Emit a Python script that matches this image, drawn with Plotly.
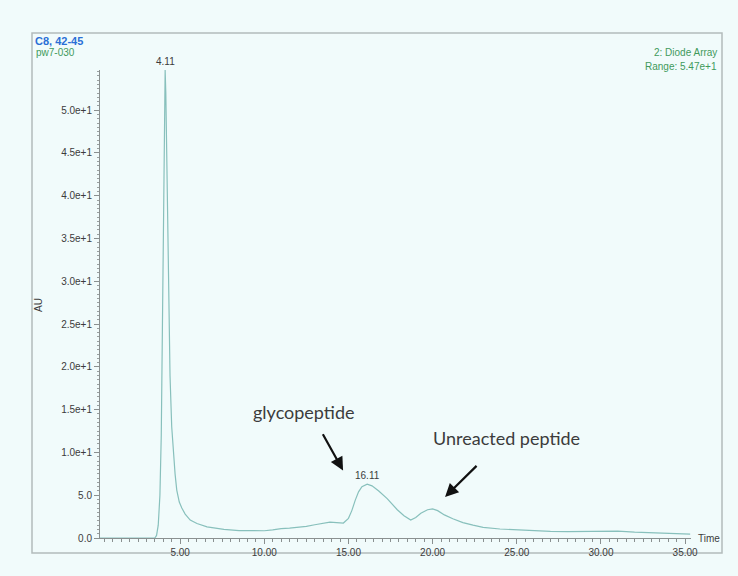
import plotly.graph_objects as go

# Chromatogram trace (time in minutes, absorbance in AU)
time_min = [0.24, 1.0, 2.0, 3.0, 3.5, 3.6, 3.7, 3.8, 3.88, 3.95, 4.02, 4.08, 4.11,
            4.15, 4.22, 4.30, 4.40, 4.50, 4.60, 4.70, 4.80, 4.95, 5.10, 5.30, 5.60,
            6.0, 6.6, 7.0, 7.6, 8.5, 9.5, 10.0, 10.5, 11.0, 11.5, 12.0, 12.5, 13.0,
            13.5, 13.9, 14.3, 14.7, 15.0, 15.2, 15.4, 15.6, 15.8, 16.11, 16.4, 16.8,
            17.3, 17.9, 18.3, 18.7, 19.0, 19.3, 19.7, 20.0, 20.3, 20.7, 21.2, 21.8,
            22.4, 23.0, 24.0, 25.0, 26.0, 27.0, 28.0, 29.0, 30.0, 31.0, 32.0, 33.0,
            34.0, 35.3]
absorbance = [0.0, 0.0, 0.0, 0.0, 0.0, 0.3, 1.5, 5.0, 12.0, 25.0, 42.0, 53.0, 54.7,
              52.0, 42.0, 30.0, 19.0, 13.0, 10.0, 7.5, 5.6, 4.2, 3.5, 2.8, 2.1,
              1.7, 1.3, 1.15, 1.0, 0.87, 0.85, 0.85, 0.95, 1.1, 1.15, 1.25, 1.35, 1.55,
              1.75, 1.85, 1.8, 1.75, 2.3, 3.2, 4.4, 5.4, 6.0, 6.3, 6.1, 5.5,
              4.6, 3.3, 2.6, 2.1, 2.4, 2.9, 3.3, 3.4, 3.2, 2.7, 2.25, 1.8,
              1.5, 1.25, 1.05, 0.95, 0.85, 0.78, 0.75, 0.74, 0.74, 0.8, 0.68, 0.6,
              0.52, 0.45]

peak_times = [4.11, 16.11]
peak_heights = [54.7, 6.3]

x_ticks = [5, 10, 15, 20, 25, 30, 35]
x_ticklabels = ["5.00", "10.00", "15.00", "20.00", "25.00", "30.00", "35.00"]
y_ticks = [0, 5, 10, 15, 20, 25, 30, 35, 40, 45, 50]
y_ticklabels = ["0.0", "5.0", "1.0e+1", "1.5e+1", "2.0e+1", "2.5e+1", "3.0e+1",
                "3.5e+1", "4.0e+1", "4.5e+1", "5.0e+1"]

W, H = 738, 576
ML, MR, MT, MB = 100, 47, 70, 38
PW, PH = W - ML - MR, H - MT - MB

def px(x):
    return (x - ML) / PW

def py(y):
    return (H - MB - y) / PH

BG = "#f1fbfb"
TXT = "#3c3c3c"
LINE = "#88c0bc"
GREEN = "#3f9a5c"
BASE_FONT = "Arial"

fig = go.Figure()
fig.add_trace(go.Scatter(x=time_min, y=absorbance, mode="lines",
                         line=dict(color=LINE, width=1.2), hoverinfo="skip",
                         showlegend=False))

annotations = []
for t, h in zip(peak_times, peak_heights):
    annotations.append(dict(x=t, y=h, text=f"{t:.2f}", showarrow=False,
                            yanchor="bottom", yshift=1,
                            font=dict(family=BASE_FONT, size=10, color=TXT)))

# Header texts
annotations += [
    dict(xref="paper", yref="paper", x=px(33), y=py(41), text="<b>C8, 42-45</b>",
         showarrow=False, xanchor="left", yanchor="middle",
         font=dict(family=BASE_FONT, size=11, color="#2a6fd6")),
    dict(xref="paper", yref="paper", x=px(34), y=py(53), text="pw7-030",
         showarrow=False, xanchor="left", yanchor="middle",
         font=dict(family=BASE_FONT, size=10, color=GREEN)),
    dict(xref="paper", yref="paper", x=px(719), y=py(53), text="2: Diode Array",
         showarrow=False, xanchor="right", yanchor="middle",
         font=dict(family=BASE_FONT, size=10, color=GREEN)),
    dict(xref="paper", yref="paper", x=px(719), y=py(66), text="Range: 5.47e+1",
         showarrow=False, xanchor="right", yanchor="middle",
         font=dict(family=BASE_FONT, size=10, color=GREEN)),
    dict(xref="paper", yref="paper", x=px(38), y=py(305), text="AU", textangle=-90,
         showarrow=False, xanchor="center", yanchor="middle",
         font=dict(family=BASE_FONT, size=10, color=TXT)),
    dict(xref="paper", yref="paper", x=px(696), y=py(538), text="Time",
         showarrow=False, xanchor="left", yanchor="middle",
         font=dict(family=BASE_FONT, size=10, color=TXT)),
]

# Peak callouts with arrows
annotations += [
    dict(x=12.35, y=14.7, text="glycopeptide", showarrow=False,
         font=dict(family="Lato, sans-serif", size=18, color=TXT)),
    dict(x=14.68, y=7.9, ax=13.43, ay=12.3, axref="x", ayref="y", text="",
         showarrow=True, arrowhead=2, arrowsize=1.2, arrowwidth=2.2,
         arrowcolor="#111111"),
    dict(x=24.4, y=11.7, text="Unreacted peptide", showarrow=False,
         font=dict(family="Lato, sans-serif", size=18, color=TXT)),
    dict(x=20.74, y=4.8, ax=22.7, ay=8.6, axref="x", ayref="y", text="",
         showarrow=True, arrowhead=2, arrowsize=1.2, arrowwidth=2.2,
         arrowcolor="#111111"),
]

fig.update_layout(
    width=W, height=H,
    margin=dict(l=ML, r=MR, t=MT, b=MB),
    paper_bgcolor=BG, plot_bgcolor=BG,
    font=dict(family=BASE_FONT, size=10, color=TXT),
    annotations=annotations,
    shapes=[dict(type="rect", xref="paper", yref="paper",
                 x0=px(32), x1=px(722), y0=py(553), y1=py(33),
                 line=dict(color="#b3bcbc", width=1.5), layer="below")],
    xaxis=dict(range=[0.24, 35.35], showgrid=False, zeroline=False,
               showline=True, linecolor="#8a9090", linewidth=1,
               ticks="outside", ticklen=5, tickcolor="#8a9090",
               tickvals=x_ticks, ticktext=x_ticklabels,
               tickfont=dict(family=BASE_FONT, size=10, color=TXT),
               minor=dict(dtick=0.5, tick0=0, ticks="outside", ticklen=3,
                          tickcolor="#8a9090")),
    yaxis=dict(range=[0, 54.7], showgrid=False, zeroline=False,
               showline=True, linecolor="#8a9090", linewidth=1,
               ticks="outside", ticklen=5, tickcolor="#8a9090",
               tickvals=y_ticks, ticktext=y_ticklabels,
               tickfont=dict(family=BASE_FONT, size=10, color=TXT),
               minor=dict(dtick=0.5, tick0=0, ticks="outside", ticklen=2,
                          tickcolor="#9aa0a0")),
)

fig.write_html("out.html")
